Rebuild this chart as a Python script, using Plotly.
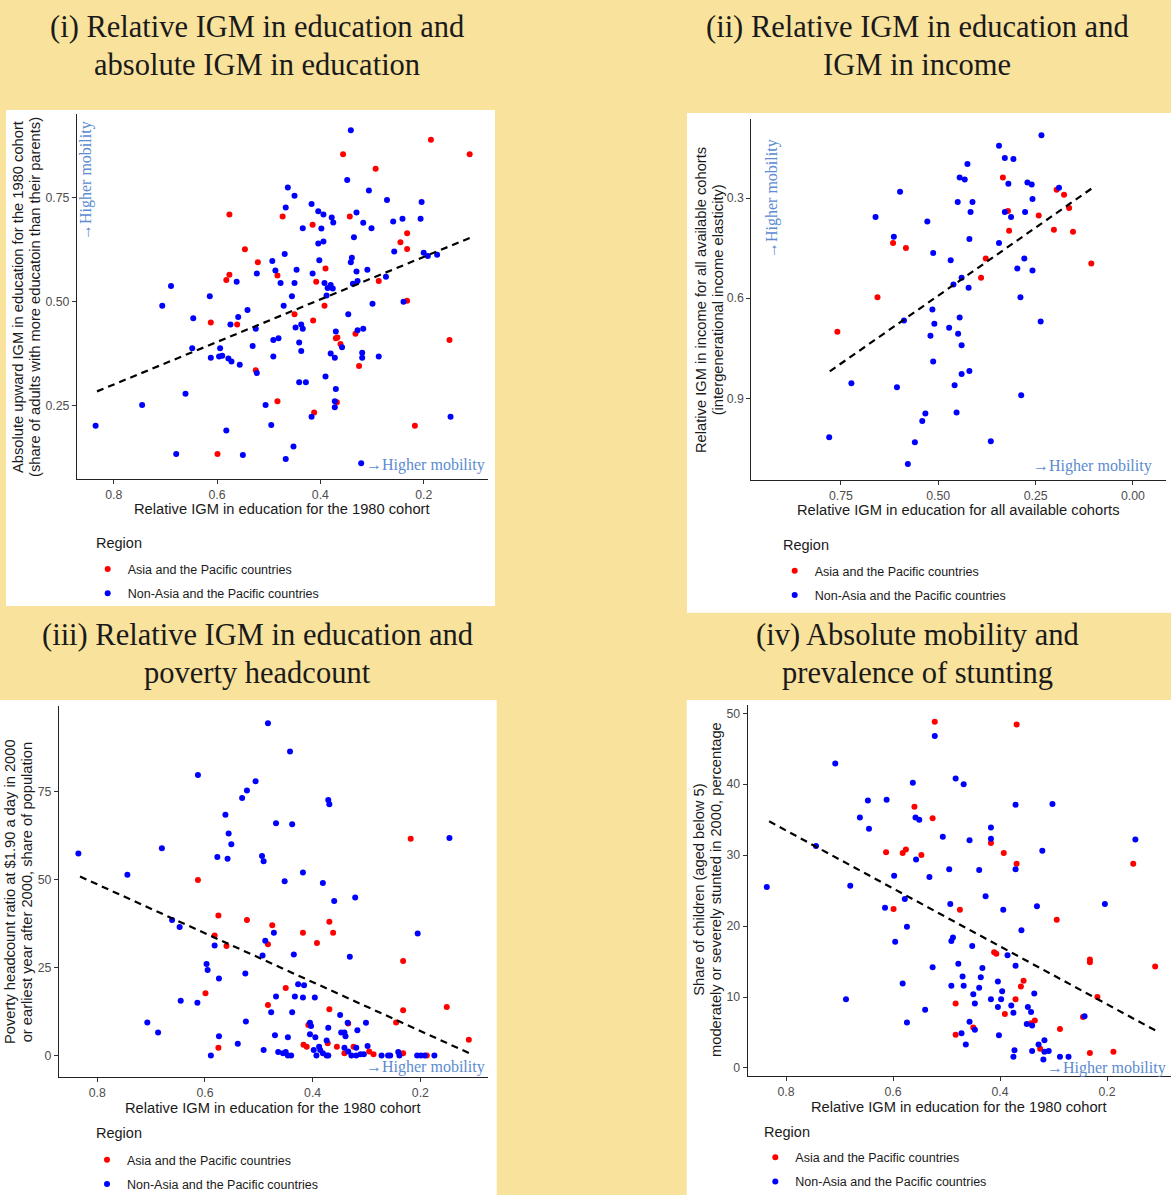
import numpy as np
import plotly.graph_objects as go

W, H = 1171, 1195
def px(x): return x / W
def py(y): return 1 - y / H

BG = "#F9E29C"
RED = "#FF0000"
BLUE = "#0000FF"
NOTE = "#5B8BD0"
SANS = "Liberation Sans, Arial, sans-serif"
SERIF = "Liberation Serif, Times New Roman, serif"

# ---------------- data ----------------
# (i) relative IGM in education (1980) vs absolute upward IGM in education
i_asia_x = [0.186,0.111,0.356,0.293,0.576,0.473,0.343,0.415,0.546,0.245,0.232,0.232,0.521,0.390,0.576,0.582,0.483,0.408,0.287,0.392,0.232,0.450,0.612,0.561,0.414,0.332,0.370,0.367,0.361,0.150,0.325,0.525,0.483,0.368,0.412,0.217,0.599]
i_asia_y = [0.890,0.855,0.855,0.820,0.710,0.705,0.705,0.685,0.626,0.643,0.665,0.627,0.595,0.580,0.565,0.552,0.563,0.548,0.550,0.490,0.502,0.470,0.450,0.445,0.455,0.423,0.412,0.414,0.398,0.408,0.345,0.335,0.260,0.258,0.233,0.201,0.133]
i_other_x = [0.341,0.348,0.463,0.450,0.306,0.271,0.204,0.467,0.417,0.404,
             0.394,0.378,0.375,0.330,0.317,0.301,0.259,0.241,0.206,0.434,
             0.398,0.335,0.404,0.394,0.469,0.257,0.200,0.192,0.174,0.339,
             0.341,0.493,0.402,0.487,0.446,0.330,0.309,0.523,0.415,0.562,
             0.477,0.450,0.392,0.380,0.386,0.376,0.337,0.328,0.273,0.388,
             0.455,0.614,0.471,0.299,0.239,0.689,0.706,0.541,0.646,0.559,
             0.346,0.574,0.525,0.448,0.437,0.434,0.370,0.328,0.317,0.491,
             0.481,0.441,0.531,0.648,0.594,0.437,0.380,0.319,0.358,0.612,
             0.596,0.590,0.578,0.572,0.556,0.491,0.372,0.319,0.287,0.523,
             0.390,0.441,0.428,0.370,0.661,0.745,0.506,0.372,0.372,0.417,
             0.148,0.835,0.495,0.582,0.679,0.550,0.452,0.467,0.321]
i_other_y = [0.913,0.793,0.775,0.755,0.768,0.745,0.740,0.727,0.735,0.718,
             0.710,0.703,0.691,0.715,0.690,0.677,0.693,0.700,0.700,0.677,
             0.676,0.655,0.640,0.645,0.615,0.621,0.618,0.610,0.613,0.606,
             0.595,0.598,0.600,0.575,0.577,0.573,0.577,0.568,0.568,0.548,
             0.545,0.545,0.545,0.540,0.533,0.532,0.543,0.550,0.560,0.515,
             0.513,0.513,0.490,0.495,0.500,0.538,0.490,0.480,0.460,0.463,
             0.470,0.445,0.435,0.438,0.445,0.435,0.428,0.431,0.435,0.408,
             0.412,0.402,0.393,0.388,0.388,0.381,0.375,0.377,0.390,0.365,
             0.368,0.370,0.363,0.356,0.348,0.368,0.365,0.365,0.368,0.328,
             0.320,0.306,0.306,0.290,0.278,0.251,0.251,0.260,0.246,0.223,
             0.223,0.201,0.203,0.190,0.133,0.131,0.151,0.121,0.111]

# (ii) relative IGM in education (all cohorts) vs relative IGM in income
ii_asia_x = [0.334,0.321,0.196,0.177,0.164,0.242,0.318,0.203,0.154,0.616,0.583,0.378,0.107,0.390,0.656,0.759]
ii_asia_y = [0.238,0.339,0.275,0.290,0.330,0.352,0.398,0.395,0.401,0.435,0.450,0.481,0.496,0.539,0.597,0.701]
ii_other_x = [0.235,0.344,0.329,0.307,0.425,0.445,0.432,0.320,0.271,0.260,
              0.190,0.598,0.450,0.412,0.258,0.417,0.329,0.313,0.277,0.661,
              0.528,0.614,0.420,0.344,0.513,0.468,0.279,0.297,0.258,0.440,
              0.461,0.422,0.289,0.515,0.445,0.588,0.237,0.510,0.472,0.449,
              0.520,0.440,0.513,0.420,0.440,0.723,0.458,0.606,0.287,0.533,
              0.453,0.541,0.780,0.560,0.365,0.578]
ii_other_y = [0.112,0.143,0.180,0.183,0.198,0.238,0.244,0.257,0.253,0.259,
              0.269,0.281,0.312,0.312,0.303,0.342,0.342,0.357,0.342,0.357,
              0.370,0.416,0.423,0.435,0.465,0.486,0.481,0.511,0.517,0.539,
              0.559,0.569,0.597,0.634,0.658,0.667,0.670,0.677,0.689,0.707,
              0.713,0.741,0.790,0.818,0.827,0.855,0.861,0.867,0.891,0.946,
              0.943,0.968,1.017,1.032,1.029,1.097]

# (iii) relative IGM in education (1980) vs poverty headcount
iii_asia_x = [0.218,0.613,0.575,0.522,0.475,0.369,0.362,0.418,0.582,0.392,
              0.483,0.560,0.232,0.450,0.599,0.483,0.151,0.369,0.232,0.408,
              0.334,0.245,0.110,0.417,0.411,0.372,0.355,0.324,0.575,0.341,
              0.295,0.287,0.232,0.188]
iii_asia_y = [61.6,49.9,39.8,38.5,37.0,38.0,34.9,34.9,34.1,32.0,
              31.6,31.1,26.9,19.2,17.7,14.4,13.8,13.2,12.9,8.7,
              9.1,9.4,4.5,3.1,2.5,3.5,2.5,2.5,2.2,0.7,
              1.2,0.4,0.7,0.0]
iii_other_x = [0.483,0.442,0.613,0.506,0.522,0.531,0.371,0.369,0.562,0.468,
               0.438,0.556,0.551,0.146,0.680,0.835,0.577,0.558,0.494,0.491,
               0.744,0.418,0.452,0.381,0.360,0.321,0.661,0.647,0.472,0.488,
               0.582,0.205,0.493,0.435,0.331,0.597,0.595,0.525,0.574,0.427,
               0.416,0.468,0.433,0.418,0.396,0.645,0.614,0.477,0.438,0.349,
               0.707,0.524,0.687,0.405,0.403,0.335,0.301,0.371,0.347,0.341,
               0.317,0.470,0.574,0.446,0.405,0.395,0.339,0.539,0.374,0.298,
               0.491,0.398,0.388,0.386,0.341,0.319,0.589,0.464,0.455,0.450,
               0.446,0.440,0.393,0.381,0.374,0.371,0.334,0.328,0.319,0.311,
               0.305,0.272,0.260,0.256,0.241,0.239,0.206,0.199,0.192,0.174]
iii_other_y = [94.4,86.4,79.7,77.9,75.3,73.2,72.6,71.4,68.4,66.0,
               65.7,63.1,60.0,61.8,58.9,57.4,56.4,55.9,56.7,55.2,
               51.4,52.0,49.5,49.0,43.9,44.9,38.5,36.5,34.9,32.6,
               31.3,34.7,28.4,28.7,28.1,26.0,24.3,23.3,21.9,20.3,
               20.0,16.8,16.8,16.5,16.5,15.6,15.0,12.3,12.3,11.5,
               9.4,9.7,6.6,9.3,8.4,9.3,9.3,7.9,6.6,6.6,
               7.2,5.8,5.5,5.2,6.1,5.2,5.5,3.4,4.3,2.7,
               1.6,1.6,2.5,1.6,2.2,2.2,0.0,1.0,0.7,1.0,
               0.0,0.0,0.0,0.7,0.0,0.0,1.2,0.0,0.0,0.4,
               0.4,0.0,0.0,0.0,1.0,0.0,0.0,0.0,0.0,0.0]

# (iv) relative IGM in education (1980) vs stunting prevalence
iv_asia_x = [0.522,0.369,0.560,0.526,0.613,0.582,0.576,0.547,0.417,0.393,
             0.369,0.151,0.599,0.475,0.294,0.411,0.407,0.232,0.232,0.110,
             0.356,0.361,0.218,0.483,0.371,0.391,0.245,0.335,0.342,0.450,
             0.288,0.483,0.325,0.232,0.188]
iv_asia_y = [48.8,48.4,36.8,35.2,30.4,30.3,30.8,30.0,31.7,30.3,
             28.8,28.8,22.4,22.3,20.9,16.3,16.1,15.3,14.9,14.3,
             12.3,11.5,10.0,9.1,9.7,7.6,7.2,6.7,6.3,5.7,
             5.5,4.7,2.7,2.1,2.3]
iv_other_x = [0.522,0.708,0.483,0.468,0.563,0.647,0.612,0.371,0.302,0.662,
              0.558,0.551,0.645,0.417,0.417,0.507,0.457,0.147,0.744,0.321,
              0.557,0.495,0.439,0.371,0.598,0.532,0.836,0.680,0.427,0.578,
              0.493,0.204,0.331,0.615,0.394,0.574,0.360,0.596,0.491,0.488,
              0.452,0.386,0.478,0.526,0.371,0.433,0.470,0.436,0.404,0.582,
              0.491,0.468,0.439,0.336,0.396,0.450,0.688,0.417,0.398,0.447,
              0.404,0.379,0.348,0.540,0.375,0.342,0.457,0.574,0.350,0.340,
              0.242,0.472,0.447,0.402,0.464,0.328,0.317,0.373,0.340,0.317,
              0.309,0.375,0.319,0.288,0.272]
iv_other_y = [46.8,42.9,40.8,40.0,40.2,37.7,37.8,37.1,37.2,35.3,
              35.3,35.0,33.7,33.9,32.3,32.6,32.1,32.2,31.3,30.6,
              29.4,28.0,27.9,28.0,27.1,26.9,25.5,25.7,24.2,23.8,
              23.1,23.1,22.8,22.6,22.3,19.9,19.4,17.8,17.9,18.4,
              17.2,15.9,14.7,14.2,14.4,14.1,12.9,12.8,12.2,11.9,
              11.6,11.6,11.3,10.5,10.8,10.4,9.7,9.7,9.7,9.1,
              8.6,8.8,8.6,8.2,7.8,7.9,6.5,6.4,6.2,6.0,
              7.3,4.9,5.4,4.6,3.3,3.3,3.9,2.5,2.4,2.3,
              2.4,1.6,1.2,1.6,1.6]

region_labels = ["Asia and the Pacific countries", "Non-Asia and the Pacific countries"]
legend_title = "Region"

titles = [
    ["(i) Relative IGM in education and", "absolute IGM in education"],
    ["(ii) Relative IGM in education and", "IGM in income"],
    ["(iii) Relative IGM in education and", "poverty headcount"],
    ["(iv) Absolute mobility and", "prevalence of stunting"],
]
x_titles = [
    "Relative IGM in education for the 1980 cohort",
    "Relative IGM in education for all available cohorts",
    "Relative IGM in education for the 1980 cohort",
    "Relative IGM in education for the 1980 cohort",
]
y_titles = [
    ["Absolute upward IGM in education for the 1980 cohort",
     "(share of adults with more educatoin than their parents)"],
    ["Relative IGM in income for all available cohorts",
     "(intergenerational income elasticity)"],
    ["Poverty headcount ratio at $1.90 a day in 2000",
     "or earliest year after 2000, share of population"],
    ["Share of children (aged below 5)",
     "moderately or severely stunted in 2000, percentage"],
]
x_ticks = [[0.8, 0.6, 0.4, 0.2], [0.75, 0.50, 0.25, 0.00], [0.8, 0.6, 0.4, 0.2], [0.8, 0.6, 0.4, 0.2]]
x_fmt = [".1f", ".2f", ".1f", ".1f"]
y_ticks = [[0.25, 0.50, 0.75], [0.3, 0.6, 0.9], [0, 25, 50, 75], [0, 10, 20, 30, 40, 50]]
y_fmt = [".2f", ".1f", "d", "d"]

data = [
    (i_asia_x, i_asia_y, i_other_x, i_other_y),
    (ii_asia_x, ii_asia_y, ii_other_x, ii_other_y),
    (iii_asia_x, iii_asia_y, iii_other_x, iii_other_y),
    (iv_asia_x, iv_asia_y, iv_other_x, iv_other_y),
]

# ---------------- layout geometry (pixels) ----------------
plot_px = [  # x0, x1, ytop, ybottom of plotting area
    (77, 488, 114, 479),
    (751.3, 1166, 119, 480),
    (59, 488, 706, 1077.3),
    (747.7, 1171, 704.7, 1076),
]
x_ranges = [[0.871, 0.0755], [0.980, -0.0848], [0.871, 0.0744], [0.8717, 0.0804]]
y_ranges = [[0.073, 0.952], [1.145, 0.063], [-6.16, 99.3], [-1.13, 51.2]]
boxes = [(6, 110, 495, 606), (687, 113, 1171, 612.7), (0, 700, 496.7, 1195), (686.7, 700, 1171, 1195)]
title_pos = [(257, 27, 65), (917, 27, 65), (257, 635, 673), (917, 635, 673)]
xtitle_pos = [(282, 509), (958, 510), (273, 1108), (959, 1107)]
ytitle_pos = [((18, 35), 297), ((701, 718.3), 300), ((10, 27.3), 892), ((698.7, 716), 890)]
legend_title_pos = [(94, 543), (781.3, 545), (93.7, 1133.3), (761.7, 1131.7)]
legend_item_pos = [(107.7, 569.3), (794.7, 571), (107, 1160), (775.3, 1157.7)]
note_h = [(487, 465), (1154, 466), (487, 1067), (1168, 1068)]
note_v = [(86, 181), (772, 199), None, None]

fig = go.Figure()
layout = dict(
    width=W, height=H, margin=dict(l=0, r=0, t=0, b=0, autoexpand=False),
    paper_bgcolor=BG, plot_bgcolor="white",
    font=dict(family=SANS, color="#1a1a1a"),
    shapes=[], annotations=[],
)

for k in range(4):
    sfx = "" if k == 0 else str(k + 1)
    xa, ya = "x" + sfx, "y" + sfx
    lg = "legend" + sfx
    ax_x, ax_y, ox, oy = data[k]

    fig.add_trace(go.Scatter(
        x=ax_x, y=ax_y, mode="markers", xaxis=xa, yaxis=ya,
        marker=dict(color=RED, size=6), name=region_labels[0],
        legend=lg, legendgroup="a" + sfx))
    fig.add_trace(go.Scatter(
        x=ox, y=oy, mode="markers", xaxis=xa, yaxis=ya,
        marker=dict(color=BLUE, size=6), name=region_labels[1],
        legend=lg, legendgroup="o" + sfx))

    allx = np.array(ax_x + ox, dtype=float)
    ally = np.array(ax_y + oy, dtype=float)
    slope, icpt = np.polyfit(allx, ally, 1)
    lx = np.linspace(allx.min(), allx.max(), 50)
    fig.add_trace(go.Scatter(
        x=lx, y=slope * lx + icpt, mode="lines", xaxis=xa, yaxis=ya,
        line=dict(color="black", width=2.2, dash="7px,5px"),
        showlegend=False, hoverinfo="skip"))

    x0, x1, yt, yb = plot_px[k]
    axis_common = dict(
        showline=True, linecolor="#222222", linewidth=1.2,
        ticks="outside", ticklen=4, tickwidth=1.1, tickcolor="#333333",
        showgrid=False, zeroline=False,
        tickfont=dict(family=SANS, size=12.3, color="#4D4D4D"),
        autorange=False, automargin=False,
    )
    layout["xaxis" + sfx] = dict(
        axis_common, domain=[px(x0), px(x1)], range=x_ranges[k],
        tickvals=x_ticks[k], tickformat=x_fmt[k], anchor=ya)
    layout["yaxis" + sfx] = dict(
        axis_common, domain=[py(yb), py(yt)], range=y_ranges[k],
        tickvals=y_ticks[k], tickformat=y_fmt[k], anchor=xa)

    bx0, by0, bx1, by1 = boxes[k]
    layout["shapes"].append(dict(
        type="rect", xref="paper", yref="paper", layer="below",
        x0=px(bx0), x1=px(bx1), y0=py(by1), y1=py(by0),
        fillcolor="white", line=dict(width=0)))

    tx, ty1, ty2 = title_pos[k]
    for line, ty in zip(titles[k], (ty1, ty2)):
        layout["annotations"].append(dict(
            text=line, x=px(tx), y=py(ty), xref="paper", yref="paper",
            xanchor="center", yanchor="middle", showarrow=False,
            font=dict(family=SERIF, size=30.5, color="#1a1a1a")))

    xtx, xty = xtitle_pos[k]
    layout["annotations"].append(dict(
        text=x_titles[k], x=px(xtx), y=py(xty), xref="paper", yref="paper",
        xanchor="center", yanchor="middle", showarrow=False,
        font=dict(family=SANS, size=14.7, color="#1a1a1a")))

    (yx1, yx2), yty = ytitle_pos[k]
    for line, yx in zip(y_titles[k], (yx1, yx2)):
        layout["annotations"].append(dict(
            text=line, x=px(yx), y=py(yty), xref="paper", yref="paper",
            xanchor="center", yanchor="middle", showarrow=False, textangle=-90,
            font=dict(family=SANS, size=14.7, color="#1a1a1a")))

    hx, hy = note_h[k]
    layout["annotations"].append(dict(
        text="→Higher mobility", x=px(hx), y=py(hy), xref="paper", yref="paper",
        xanchor="right", yanchor="middle", showarrow=False,
        font=dict(family=SERIF, size=16, color=NOTE)))
    if note_v[k] is not None:
        vx, vy = note_v[k]
        layout["annotations"].append(dict(
            text="→Higher mobility", x=px(vx), y=py(vy), xref="paper", yref="paper",
            xanchor="center", yanchor="middle", showarrow=False, textangle=-90,
            font=dict(family=SERIF, size=16, color=NOTE)))

    # legend title
    rx, ry = legend_title_pos[k]
    layout["annotations"].append(dict(
        text=legend_title, x=px(rx), y=py(ry), xref="paper", yref="paper",
        xanchor="left", yanchor="middle", showarrow=False,
        font=dict(family=SANS, size=14.5, color="#1a1a1a")))

    dx, dy = legend_item_pos[k]
    layout[lg] = dict(
        x=px(dx - 20), y=py(dy - 15), xanchor="left", yanchor="top",
        bgcolor="rgba(0,0,0,0)", borderwidth=0,
        font=dict(family=SANS, size=12.5, color="#1a1a1a"),
        traceorder="grouped", tracegroupgap=5, orientation="v",
    )

fig.update_layout(**layout)
fig.write_html("out.html")
